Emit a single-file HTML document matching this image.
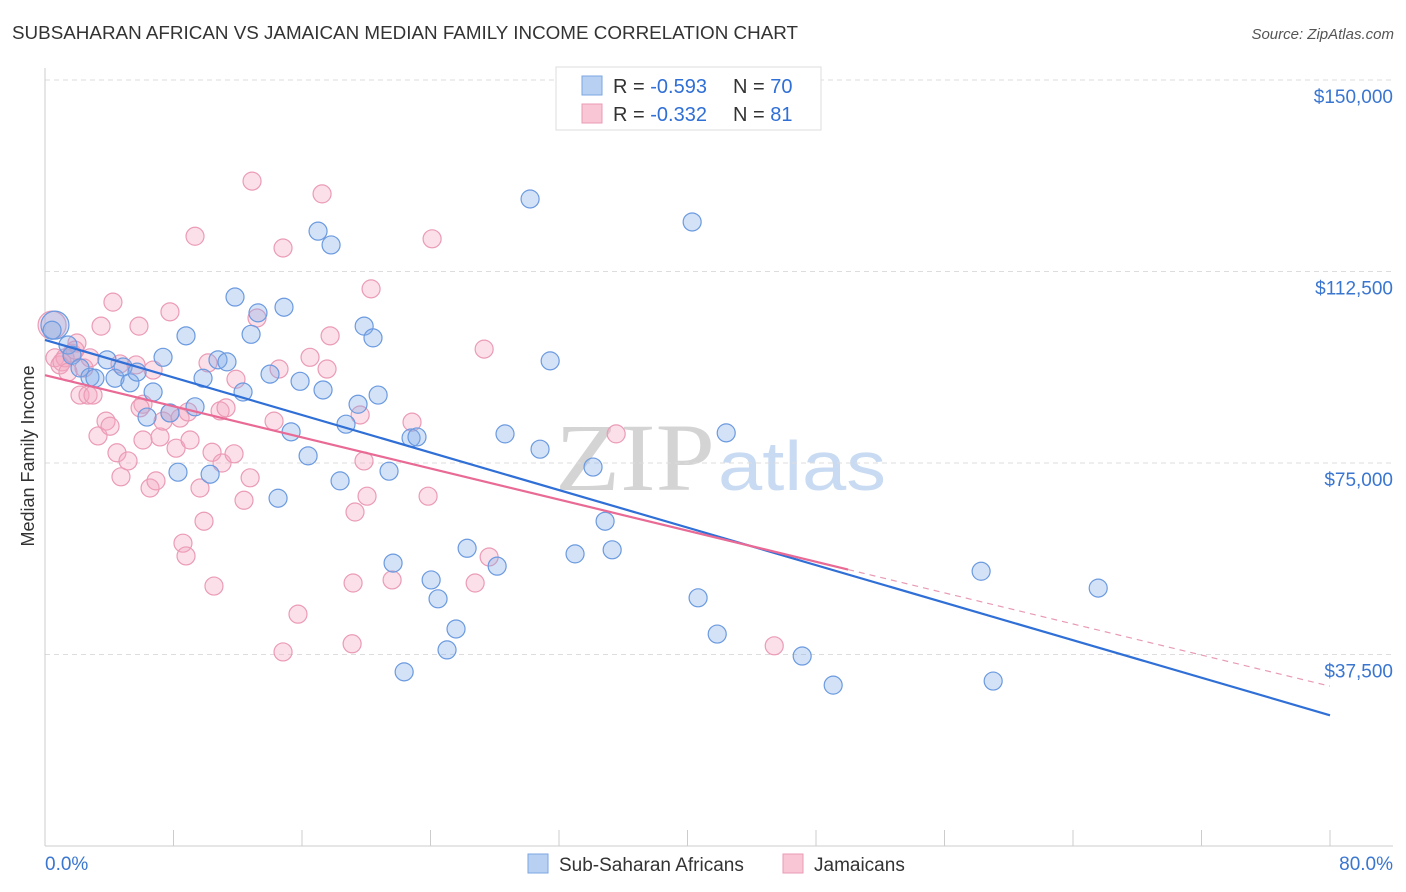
<!DOCTYPE html>
<html><head><meta charset="utf-8">
<style>
body{margin:0;background:#fff;font-family:"Liberation Sans",sans-serif;}
#wrap{position:relative;width:1406px;height:892px;overflow:hidden;}
</style></head>
<body>
<div id="wrap">
<svg id="svg" width="1406" height="892" xmlns="http://www.w3.org/2000/svg">
<text x="12" y="39" font-size="18" fill="#333" textLength="786" lengthAdjust="spacingAndGlyphs">SUBSAHARAN AFRICAN VS JAMAICAN MEDIAN FAMILY INCOME CORRELATION CHART</text>
<text x="1394" y="39" font-size="15" fill="#555" font-style="italic" text-anchor="end">Source: ZipAtlas.com</text>
<text x="34" y="456" font-size="18" fill="#333" text-anchor="middle" transform="rotate(-90 34 456)">Median Family Income</text>
<g>
<text x="555" y="490" font-size="96" fill="#d4d4d4" font-family="Liberation Serif,serif" textLength="160" lengthAdjust="spacingAndGlyphs">ZIP</text>
<text x="718" y="490" font-size="70" fill="#c9dbf2" textLength="168" lengthAdjust="spacingAndGlyphs">atlas</text>
</g>
<g id="grid"></g><g id="axes"></g><g id="pts"></g><g id="lines"></g>
<g>
<rect x="556" y="67" width="265" height="63" fill="#fff" stroke="#ddd"/>
<rect x="582" y="76" width="20" height="19" fill="#b8d1f3" stroke="#7aa6e0"/>
<rect x="582" y="104" width="20" height="19" fill="#f9c6d5" stroke="#eb9bb5"/>
<text x="613" y="93" font-size="20" fill="#333">R = <tspan fill="#2f6fd6">-0.593</tspan></text>
<text x="733" y="93" font-size="20" fill="#333">N = <tspan fill="#2f6fd6">70</tspan></text>
<text x="613" y="121" font-size="20" fill="#333">R = <tspan fill="#2f6fd6">-0.332</tspan></text>
<text x="733" y="121" font-size="20" fill="#333">N = <tspan fill="#2f6fd6"> 81</tspan></text>
</g>
<g>
<rect x="528" y="854" width="20" height="19" fill="#b8d1f3" stroke="#7aa6e0"/>
<text x="559" y="871" font-size="19" fill="#333">Sub-Saharan Africans</text>
<rect x="783" y="854" width="20" height="19" fill="#f9c6d5" stroke="#eb9bb5"/>
<text x="814" y="871" font-size="19" fill="#333">Jamaicans</text>
</g>
</svg>
</div>
<script>
const yTicks=[37500,75000,112500,150000];
const yTickLabels=["$37,500","$75,000","$112,500","$150,000"];
const xEndLabels=["0.0%","80.0%"];
const blueX=[0.62,0.44,1.43,1.68,2.18,2.80,3.11,3.86,4.36,4.86,5.29,5.73,6.35,6.73,7.35,7.78,8.28,8.78,9.34,9.84,10.28,10.77,11.33,11.83,12.33,12.83,13.26,14.01,14.51,14.88,15.32,15.88,16.38,17.00,17.31,17.81,18.37,18.74,19.49,19.87,20.42,20.74,21.42,21.67,22.36,22.79,23.16,24.04,24.47,25.03,25.59,26.28,28.15,28.64,30.20,30.82,31.45,33.00,34.12,34.87,35.31,40.29,40.66,41.85,42.41,47.14,49.07,58.28,59.03,65.57];
const blueY=[102.0,101.0,98.1,96.1,93.6,91.8,91.6,95.2,91.6,93.8,90.7,92.8,84.0,88.9,95.7,84.8,73.2,99.9,86.0,91.6,72.8,95.2,94.8,107.5,88.9,100.2,104.4,92.4,68.1,105.5,81.1,91.0,76.4,120.4,89.3,117.7,71.5,82.6,86.5,101.8,99.5,88.3,73.4,55.4,34.1,79.9,80.1,52.1,48.4,38.4,42.5,58.3,54.8,80.7,126.7,77.7,95.0,57.2,74.2,63.6,58.0,122.2,48.6,41.5,80.9,37.2,31.5,53.8,32.3,50.5];
const pinkX=[0.44,0.62,0.93,1.25,1.68,1.99,2.18,2.43,2.68,2.99,3.30,3.49,3.80,4.05,4.23,4.48,4.73,5.17,5.67,5.85,6.10,6.10,6.54,6.73,6.91,7.16,7.35,7.78,7.78,8.16,8.41,8.59,8.78,9.03,9.34,9.65,9.90,10.15,10.40,10.52,10.90,11.02,11.27,11.77,11.89,12.39,12.77,12.89,13.20,14.26,14.57,14.82,14.82,15.75,16.50,17.25,17.56,17.75,19.12,19.18,19.30,19.62,19.86,20.05,20.30,21.61,22.85,23.85,24.10,26.78,27.34,27.65,35.56,45.40,1.06,2.80,4.67,1.87,1.43,5.92,8.90];
const pinkY=[102.0,95.6,94.2,95.6,96.5,98.5,88.3,93.6,88.3,88.3,80.3,101.8,83.2,82.2,106.5,77.0,72.3,75.4,94.2,101.8,86.5,79.5,70.1,93.2,71.5,80.1,83.2,104.6,84.8,77.9,83.8,59.3,56.8,79.5,119.4,70.1,63.6,94.6,77.1,50.9,85.2,75.0,85.8,76.8,91.4,67.7,72.1,130.2,103.4,83.2,93.4,117.1,38.0,45.4,95.7,127.7,93.4,99.9,39.6,51.5,65.4,84.4,75.4,68.5,109.1,52.1,83.0,68.5,118.9,51.5,97.3,56.6,80.7,39.2,94.8,95.6,94.4,97.1,92.8,85.8,85.0];
const blueTrend=[99.1,25.6];
const pinkTrend=[92.2,31.3];
const pinkSolidEnd=50;

const NS="http://www.w3.org/2000/svg";
const sx=p=>45+p*(1285/80);
const sy=v=>846-v*(191.5/37500);
function mk(tag,attrs,parent){const e=document.createElementNS(NS,tag);for(const k in attrs)e.setAttribute(k,attrs[k]);parent.appendChild(e);return e;}
const grid=document.getElementById('grid'),axes=document.getElementById('axes'),pts=document.getElementById('pts'),lines=document.getElementById('lines');
yTicks.forEach((t,i)=>{
  const l=mk('line',{x1:45,x2:1393,y1:sy(t),y2:sy(t),stroke:'#ddd','stroke-dasharray':'5,4'},grid);
  
  
  const tx=mk('text',{x:1393,y:sy(t)+23,'font-size':19,fill:'#3a76d0','text-anchor':'end'},axes);
  tx.textContent=yTickLabels[i];
  
  
});
const ax=mk('line',{x1:45,x2:1393,y1:846,y2:846,stroke:'#ccc'},axes);


const ay=mk('line',{x1:45,x2:45,y1:68,y2:846,stroke:'#ccc'},axes);


for(let i=0;i<=10;i++){
  const t=mk('line',{x1:sx(i*8),x2:sx(i*8),y1:830,y2:846,stroke:'#ccc'},axes);
  
  
}
const xl0=mk('text',{x:45,y:870,'font-size':19,fill:'#3a76d0'},axes);xl0.textContent=xEndLabels[0];


const xl1=mk('text',{x:1393,y:870,'font-size':19,fill:'#3a76d0','text-anchor':'end'},axes);xl1.textContent=xEndLabels[1];



function dots(X,Y,fill,stroke,name){
  X.forEach((p,i)=>{
    const r=i===0?14:9;
    const c=mk('circle',{cx:sx(p),cy:sy(Y[i]*1000),r:r,fill:fill,stroke:stroke,'stroke-width':1.2},pts);
    
    
  });
}
dots(pinkX,pinkY,'rgba(244,165,192,0.35)','#eb9bb5','jamaican-point');
dots(blueX,blueY,'rgba(130,172,232,0.35)','#6b9ae0','subsaharan-point');

const bl=mk('line',{x1:sx(0),y1:sy(blueTrend[0]*1000),x2:sx(80),y2:sy(blueTrend[1]*1000),stroke:'#2f6fd6','stroke-width':2.2},lines);


const pv=p=>pinkTrend[0]+(pinkTrend[1]-pinkTrend[0])*p/80;
const pl=mk('line',{x1:sx(0),y1:sy(pinkTrend[0]*1000),x2:sx(pinkSolidEnd),y2:sy(pv(pinkSolidEnd)*1000),stroke:'#e86a95','stroke-width':2.2},lines);


const pd=mk('line',{x1:sx(pinkSolidEnd),y1:sy(pv(pinkSolidEnd)*1000),x2:sx(80),y2:sy(pinkTrend[1]*1000),stroke:'#e89ab5','stroke-width':1.2,'stroke-dasharray':'6,5'},lines);


</script>
</body></html>
